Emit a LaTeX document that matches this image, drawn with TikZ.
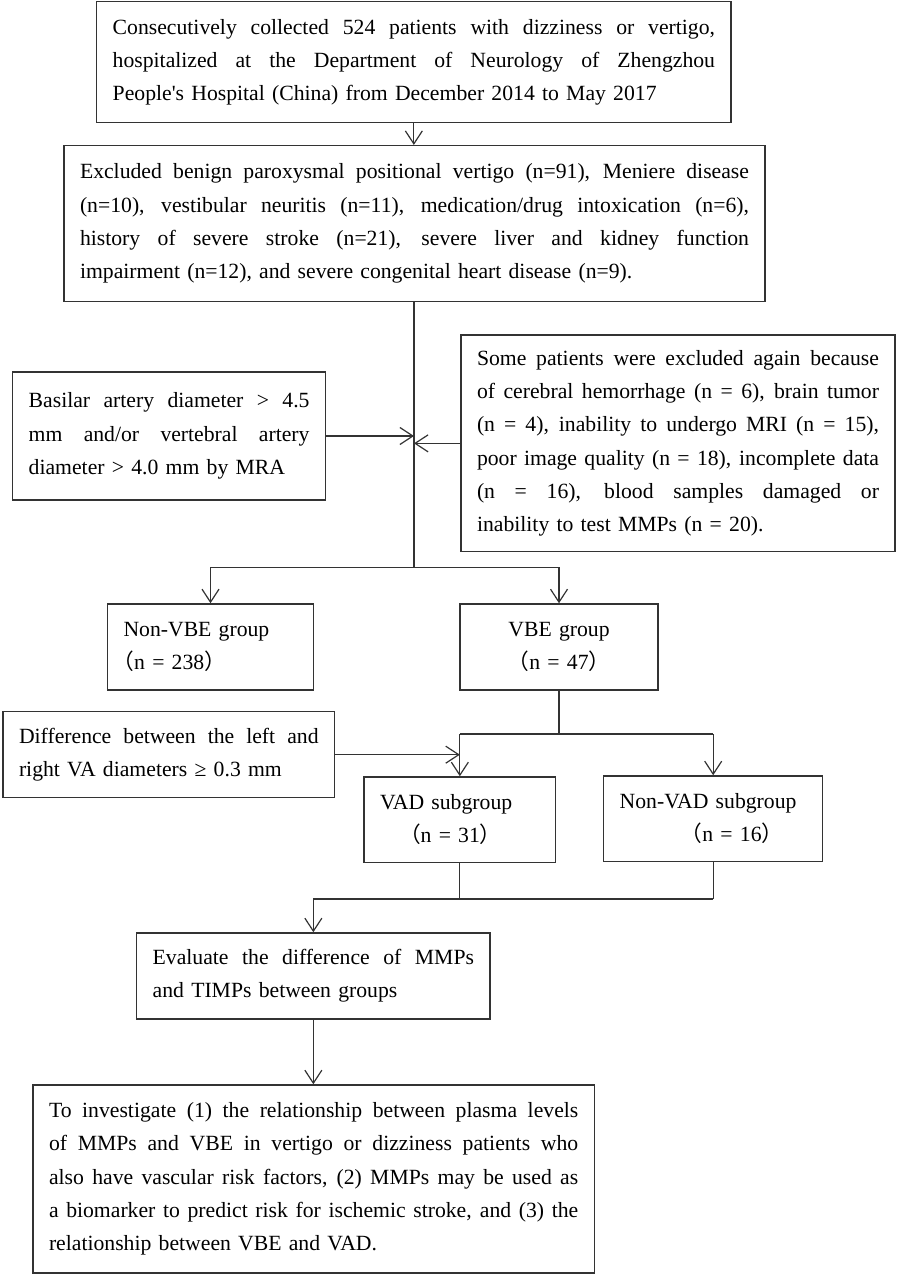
\documentclass[tikz,border=0pt]{standalone}
\usepackage{fontspec}
\setmainfont{Liberation Serif}
\newfontfamily\cjkfont{Noto Sans CJK SC}
\usetikzlibrary{arrows.meta}
\setlength\parindent{0pt}
\newlength\jw
\newcommand\jl[1]{\leavevmode\hbox to \jw{\spaceskip=0.25em plus 1fil\xspaceskip=0.25em plus 1fil\relax #1}}
\newcommand\lp{{\cjkfont （}}
\newcommand\rp{{\cjkfont ）}}
\tikzset{
  box/.style={draw=black!80, line width=1.5pt, rectangle, inner xsep=16pt, inner ysep=0pt,
    align=left, text=black},
  tw/.style={text width=#1, font={\fontsize{21.7}{33.3}\selectfont\setlength\jw{#1}}},
  conn/.style={draw=black!80, line width=1.2pt},
  arr/.style={conn, -{Straight Barb[length=13pt,width=17pt,line width=1.2pt]}}
}
\begin{document}
\begin{tikzpicture}[x=1pt,y=-1pt]
\useasboundingbox (0,0) rectangle (897,1276);

\node[box, minimum width=634.3pt, minimum height=121pt, tw=602.3pt] (b1) at (413.85,62.2)
 {\jl{Consecutively collected 524 patients with dizziness or vertigo,}\\
  \jl{hospitalized at the Department of Neurology of Zhengzhou}\\
  People\textquotesingle s Hospital (China) from December 2014 to May 2017};

\node[box, minimum width=701pt, minimum height=156pt, tw=669pt] (b2) at (414.5,223.7)
 {\jl{Excluded benign paroxysmal positional vertigo (n=91), Meniere disease}\\
  \jl{(n=10), vestibular neuritis (n=11), medication/drug intoxication (n=6),}\\
  \jl{history of severe stroke (n=21), severe liver and kidney function}\\
  impairment (n=12), and severe congenital heart disease (n=9).};

\node[box, minimum width=312.8pt, minimum height=128pt, tw=280.8pt] (bas) at (169.1,436)
 {\jl{Basilar artery diameter > 4.5}\\
  \jl{mm and/or vertebral artery}\\
  diameter > 4.0 mm by MRA};

\node[box, minimum width=434pt, minimum height=216.7pt, tw=402pt] (some) at (678,443.35)
 {\jl{Some patients were excluded again because}\\
  \jl{of cerebral hemorrhage (n = 6), brain tumor}\\
  \jl{(n = 4), inability to undergo MRI (n = 15),}\\
  \jl{poor image quality (n = 18), incomplete data}\\
  \jl{(n = 16), blood samples damaged or}\\
  inability to test MMPs (n = 20).};

\node[box, minimum width=206pt, minimum height=86pt, tw=174pt] (nvbe) at (210.5,647)
 {Non-VBE group\\ \hspace*{-11pt}\lp n = 238\rp};

\node[box, minimum width=198pt, minimum height=86pt, tw=166pt, align=center] (vbe) at (559,647)
 {VBE group\\ \lp n = 47\rp};

\node[box, minimum width=331.6pt, minimum height=86pt, tw=299.6pt] (diff) at (168.8,754.7)
 {\jl{Difference between the left and}\\
  right VA diameters ≥ 0.3 mm};

\node[box, minimum width=191.7pt, minimum height=85.7pt, tw=159.7pt] (vad) at (459.85,819.85)
 {VAD subgroup\\ \hspace*{19pt}\lp n = 31\rp};

\node[box, minimum width=219pt, minimum height=85.7pt, tw=187pt] (nvad) at (713.2,818.85)
 {Non-VAD subgroup\\ \hspace*{61pt}\lp n = 16\rp};

\node[box, minimum width=353.3pt, minimum height=86pt, tw=321.3pt] (eval) at (313.35,976)
 {\jl{Evaluate the difference of MMPs}\\
  and TIMPs between groups};

\node[box, minimum width=561.3pt, minimum height=188pt, tw=529.3pt] (fin) at (313.65,1179)
 {\jl{To investigate (1) the relationship between plasma levels}\\
  \jl{of MMPs and VBE in vertigo or dizziness patients who}\\
  \jl{also have vascular risk factors, (2) MMPs may be used as}\\
  \jl{a biomarker to predict risk for ischemic stroke, and (3) the}\\
  relationship between VBE and VAD.};

% junctions
\coordinate (j1) at (414,567.3);
\coordinate (j2) at (559,734);
\coordinate (j3) at (313.35,899);

% connectors
\draw[arr] (b1.south) -- (b1.south |- b2.north);
\draw[conn] (b2.south -| j1) -- (j1);
\draw[arr] (bas.east) -- (bas.east -| j1);
\draw[arr] (some.west) -- (some.west -| j1);
\draw[conn] (nvbe.north |- j1) -- (vbe.north |- j1);
\draw[arr] (nvbe.north |- j1) -- (nvbe.north);
\draw[arr] (vbe.north |- j1) -- (vbe.north);
\draw[conn] (vbe.south) -- (j2);
\draw[conn] (vad.north |- j2) -- (nvad.north |- j2);
\draw[arr] (vad.north |- j2) -- (vad.north);
\draw[arr] (nvad.north |- j2) -- (nvad.north);
\draw[arr] (diff.east) -- (diff.east -| vad.north);
\draw[conn] (vad.south) -- (vad.south |- j3);
\draw[conn] (nvad.south) -- (nvad.south |- j3);
\draw[conn] (j3) -- (nvad.south |- j3);
\draw[arr] (j3) -- (eval.north);
\draw[arr] (eval.south) -- (eval.south |- fin.north);
\end{tikzpicture}
\end{document}
